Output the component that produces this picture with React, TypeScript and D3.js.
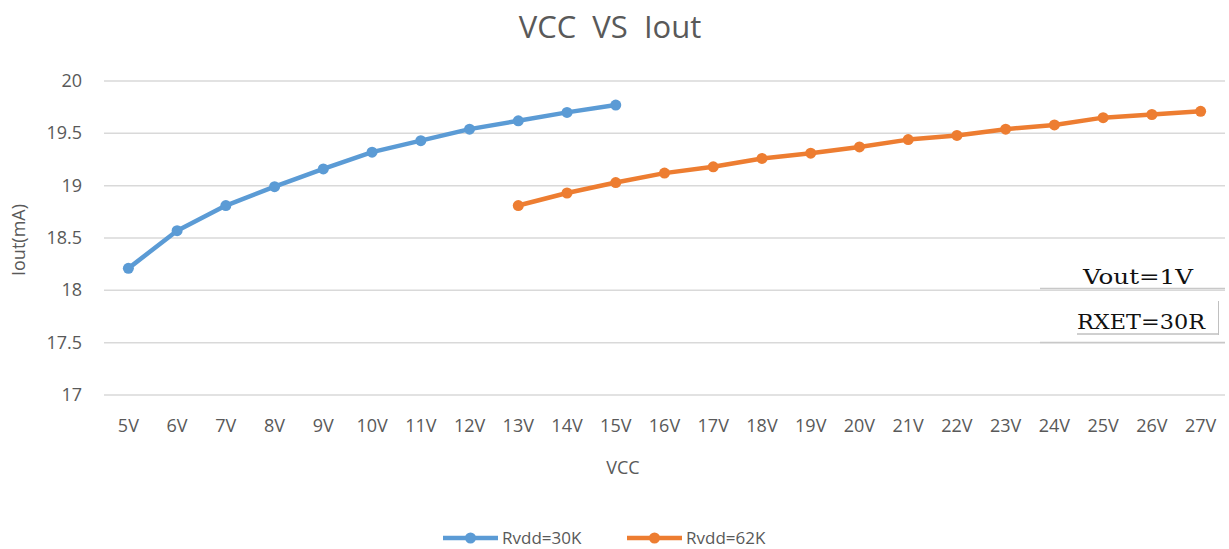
import { useEffect, useRef } from "react";
import * as d3 from "d3";

const categories = [
  "5V", "6V", "7V", "8V", "9V", "10V", "11V", "12V", "13V", "14V", "15V", "16V",
  "17V", "18V", "19V", "20V", "21V", "22V", "23V", "24V", "25V", "26V", "27V",
];
const series30K = [18.21, 18.57, 18.81, 18.99, 19.16, 19.32, 19.43, 19.54, 19.62, 19.7, 19.77];
const cats30K = categories.slice(0, 11);
const series62K = [
  18.81, 18.93, 19.03, 19.12, 19.18, 19.26, 19.31, 19.37, 19.44, 19.48, 19.54, 19.58,
  19.65, 19.68, 19.71,
];
const cats62K = categories.slice(8);
const yTicks = [17, 17.5, 18, 18.5, 19, 19.5, 20];
const seriesNames = ["Rvdd=30K", "Rvdd=62K"];
const colors = ["#5B9BD5", "#ED7D31"];

const W = 1229,
  H = 549;
const font = "'Open Sans', 'Noto Sans', sans-serif";

export default function App() {
  const ref = useRef<SVGSVGElement>(null);

  useEffect(() => {
    const svg = d3.select(ref.current!);
    svg.selectAll("*").remove();

    const x = d3.scaleBand().domain(categories).range([104, 1225]);
    const y = d3.scaleLinear().domain([17, 20]).range([395, 81]);
    const cx = (c: string) => x(c)! + x.bandwidth() / 2;

    svg.append("rect").attr("width", W).attr("height", H).attr("fill", "#fff");

    // title
    svg
      .append("text")
      .attr("x", 610)
      .attr("y", 38)
      .attr("text-anchor", "middle")
      .attr("font-family", font)
      .attr("font-size", 31)
      .attr("fill", "#595959")
      .attr("xml:space", "preserve")
      .text("VCC  VS  Iout");

    // gridlines
    svg
      .append("g")
      .selectAll("line")
      .data(yTicks)
      .join("line")
      .attr("x1", 104)
      .attr("x2", 1225)
      .attr("y1", (d) => y(d))
      .attr("y2", (d) => y(d))
      .attr("stroke", "#d9d9d9")
      .attr("stroke-width", 1.5);

    // y tick labels
    svg
      .append("g")
      .selectAll("text")
      .data(yTicks)
      .join("text")
      .attr("x", 82)
      .attr("y", (d) => y(d) + 6)
      .attr("text-anchor", "end")
      .attr("font-family", font)
      .attr("font-size", 18)
      .attr("fill", "#595959")
      .text((d) => String(d));

    // x tick labels
    svg
      .append("g")
      .selectAll("text")
      .data(categories)
      .join("text")
      .attr("x", (d) => cx(d))
      .attr("y", 432)
      .attr("text-anchor", "middle")
      .attr("font-family", font)
      .attr("font-size", 18)
      .attr("fill", "#595959")
      .text((d) => d);

    // axis titles
    svg
      .append("text")
      .attr("x", 623)
      .attr("y", 474)
      .attr("text-anchor", "middle")
      .attr("font-family", font)
      .attr("font-size", 18)
      .attr("fill", "#595959")
      .text("VCC");
    svg
      .append("text")
      .attr("transform", "translate(25,240) rotate(-90)")
      .attr("text-anchor", "middle")
      .attr("font-family", font)
      .attr("font-size", 18)
      .attr("fill", "#595959")
      .text("Iout(mA)");

    const line = d3
      .line<[string, number]>()
      .x((d) => cx(d[0]))
      .y((d) => y(d[1]));

    const all: [string, number][][] = [
      cats30K.map((c, i) => [c, series30K[i]]),
      cats62K.map((c, i) => [c, series62K[i]]),
    ];

    all.forEach((pts, si) => {
      const g = svg.append("g");
      g.append("path")
        .attr("d", line(pts)!)
        .attr("fill", "none")
        .attr("stroke", colors[si])
        .attr("stroke-width", 4.5)
        .attr("stroke-linejoin", "round");
      g.selectAll("circle")
        .data(pts)
        .join("circle")
        .attr("cx", (d) => cx(d[0]))
        .attr("cy", (d) => y(d[1]))
        .attr("r", 5.5)
        .attr("fill", colors[si]);
    });

    // annotation
    const ann = svg
      .append("g")
      .attr("font-family", "'DejaVu Serif', 'Liberation Serif', serif")
      .attr("fill", "#111");
    ann.append("text").attr("x", 1083).attr("y", 284).attr("font-size", 21)
      .attr("textLength", 110).attr("lengthAdjust", "spacingAndGlyphs").text("Vout=1V");
    ann.append("line").attr("x1", 1040).attr("x2", 1225).attr("y1", 288.5).attr("y2", 288.5)
      .attr("stroke", "#c8c8c8").attr("stroke-width", 1.5);
    ann.append("text").attr("x", 1077).attr("y", 329).attr("font-size", 21)
      .attr("textLength", 128).attr("lengthAdjust", "spacingAndGlyphs").text("RXET=30R");
    ann.append("line").attr("x1", 1077).attr("x2", 1219).attr("y1", 334).attr("y2", 334)
      .attr("stroke", "#a0a0a0").attr("stroke-width", 1);
    ann.append("line").attr("x1", 1218.5).attr("x2", 1218.5).attr("y1", 301).attr("y2", 335)
      .attr("stroke", "#c0c0c0").attr("stroke-width", 1);
    ann.append("line").attr("x1", 1040).attr("x2", 1225).attr("y1", 342.5).attr("y2", 342.5)
      .attr("stroke", "#c8c8c8").attr("stroke-width", 1.5);

    // legend
    const legX = [443, 627];
    seriesNames.forEach((name, i) => {
      const g = svg.append("g").attr("transform", `translate(${legX[i]},538)`);
      g.append("line").attr("x1", 0).attr("x2", 55).attr("stroke", colors[i]).attr("stroke-width", 4.5);
      g.append("circle").attr("cx", 27.5).attr("r", 5.5).attr("fill", colors[i]);
      g.append("text")
        .attr("x", 59)
        .attr("y", 6)
        .attr("font-family", font)
        .attr("font-size", 17)
        .attr("fill", "#595959")
        .text(name);
    });
  }, []);

  return (
    <svg
      ref={ref}
      width={W}
      height={H}
      style={{ position: "absolute", left: 0, top: 0 }}
    />
  );
}
